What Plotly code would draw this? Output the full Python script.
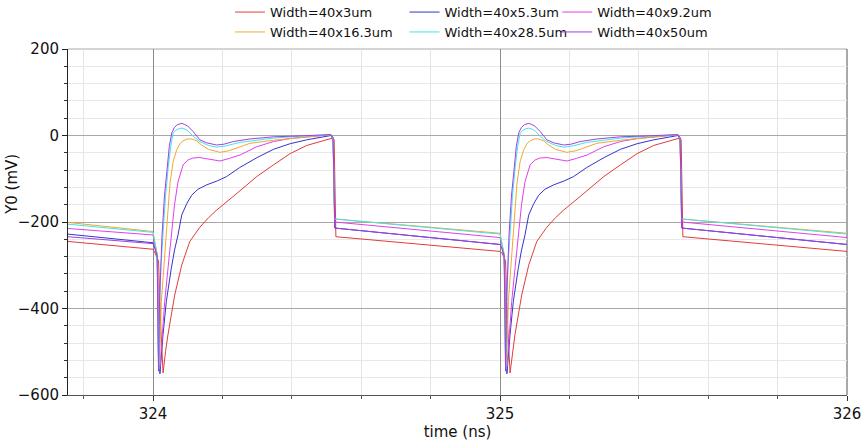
import plotly.graph_objects as go

# ---- data ----
series_names = ["Width=40x3um", "Width=40x5.3um", "Width=40x9.2um",
                "Width=40x16.3um", "Width=40x28.5um", "Width=40x50um"]
series_colors = ["#e03c3c", "#3434cc", "#e040e8", "#f0a830", "#40e4ee", "#a040e0"]
legend_group = ["legend", "legend2", "legend3", "legend", "legend2", "legend3"]

period_starts = [324.0, 325.0]
x_left = 323.755

# value at the left edge of the window (mV)
left_mv = [-245, -228, -215, -201, -205, -234]

# one switching period: time after the edge (ns) and Y0 (mV)
t_3um = [0.0, 0.006, 0.016, 0.022, 0.029, 0.036, 0.043, 0.0625, 0.083, 0.106, 0.135, 0.16,
         0.184, 0.231, 0.251, 0.299, 0.347, 0.395, 0.443, 0.491, 0.513, 0.522, 0.527, 1.0]
v_3um = [-263, -272, -290, -440, -549, -500, -461, -369, -299, -245, -212, -190,
         -172, -141, -127, -95, -68, -42, -23, -11, -7, -9, -234, -268]

t_5um = [0.0, 0.006, 0.012, 0.017, 0.020, 0.0288, 0.0383, 0.0527, 0.062, 0.072, 0.0827, 0.097,
         0.1115, 0.13, 0.155, 0.185, 0.212, 0.25, 0.28, 0.30, 0.347, 0.395, 0.443, 0.491,
         0.513, 0.519, 0.524, 1.0]
v_5um = [-248, -262, -280, -480, -551, -461, -384, -307, -265, -230, -184, -158,
         -138, -124, -114, -105, -95, -74, -60, -51, -32, -19, -10, -3,
         0, -10, -214, -252]

t_9um = [0.0, 0.006, 0.013, 0.017, 0.020, 0.027, 0.0337, 0.0432, 0.0527, 0.062, 0.072, 0.0867,
         0.10, 0.115, 0.135, 0.16, 0.193, 0.22, 0.251, 0.299, 0.347, 0.395, 0.443, 0.491,
         0.513, 0.519, 0.524, 1.0]
v_9um = [-230, -255, -280, -500, -535, -460, -384, -307, -230, -160, -107, -68,
         -57, -52, -51, -55, -59, -53, -45, -26, -14, -7, -3, 0,
         1, -5, -200, -236]

t_16um = [0.0, 0.006, 0.012, 0.016, 0.019, 0.024, 0.0383, 0.049, 0.058, 0.068, 0.077, 0.0865,
          0.10, 0.1115, 0.125, 0.14, 0.16, 0.193, 0.22, 0.251, 0.2795, 0.347, 0.443, 0.491,
          0.513, 0.519, 0.523, 1.0]
v_16um = [-222, -250, -275, -480, -530, -384, -230, -110, -60, -34, -20, -12,
          -8, -8, -12, -22, -32, -39, -35, -26, -18, -11, -4, 0,
          2, -5, -193, -226]

t_28um = [0.0, 0.006, 0.012, 0.0145, 0.017, 0.0193, 0.023, 0.0288, 0.036, 0.0441, 0.051, 0.058,
          0.066, 0.075, 0.0827, 0.092, 0.102, 0.116, 0.135, 0.16, 0.1836, 0.21, 0.25, 0.2795,
          0.347, 0.42, 0.491, 0.513, 0.519, 0.523, 1.0]
v_28um = [-224, -250, -275, -480, -540, -384, -300, -230, -140, -72, -25, 6,
          12, 16, 17, 15, 10, -2, -14, -23, -27, -24, -16, -13,
          -6, -2, 1, 2, -5, -193, -228]

t_50um = [0.0, 0.006, 0.012, 0.0145, 0.016, 0.0187, 0.022, 0.026, 0.033, 0.0403, 0.047, 0.054,
          0.062, 0.070, 0.078, 0.0827, 0.090, 0.100, 0.116, 0.135, 0.155, 0.1836, 0.205, 0.231,
          0.2795, 0.347, 0.42, 0.491, 0.513, 0.519, 0.524, 1.0]
v_50um = [-250, -262, -278, -480, -545, -384, -300, -230, -140, -72, -25, 6,
          19, 25, 28, 28, 26, 22, 9, -10, -17, -22, -20, -14,
          -8, -3, -1, 1, 2, -5, -214, -252]

period_t = [t_3um, t_5um, t_9um, t_16um, t_28um, t_50um]
period_v = [v_3um, v_5um, v_9um, v_16um, v_28um, v_50um]

x_ticks = [324, 325, 326]
y_ticks = [-600, -400, -200, 0, 200]

FONT = "DejaVu Sans"

fig = go.Figure()
for name, color, lg, left, T, V in zip(series_names, series_colors, legend_group,
                                       left_mv, period_t, period_v):
    xs = [x_left] + [period_starts[0] + t for t in T] + [period_starts[1] + t for t in T[1:]]
    ys = [left] + list(V) + list(V[1:])
    fig.add_trace(go.Scatter(x=xs, y=ys, mode="lines", name=name,
                             line=dict(color=color, width=1), legend=lg))

legend_common = dict(orientation="v", xanchor="left", yanchor="top",
                     bgcolor="rgba(0,0,0,0)", font=dict(family=FONT, size=13, color="#111"),
                     itemwidth=30, tracegroupgap=0)

fig.update_layout(
    width=863, height=442,
    margin=dict(l=68, r=16, t=49, b=47, autoexpand=False),
    paper_bgcolor="white", plot_bgcolor="white",
    font=dict(family=FONT, size=15, color="#111"),
    legend=dict(x=0.208, y=1.150, **legend_common),
    legend2=dict(x=0.432, y=1.150, **legend_common),
    legend3=dict(x=0.628, y=1.150, **legend_common),
    xaxis=dict(range=[x_left, 326], tickvals=x_ticks, ticktext=[str(v) for v in x_ticks],
               showgrid=True, gridcolor="#8c8c8c", gridwidth=1, zeroline=False,
               showline=True, linecolor="#555", linewidth=1,
               ticks="outside", ticklen=5, tickcolor="#333",
               tickfont=dict(family=FONT, size=15, color="#111"),
               minor=dict(dtick=0.2, showgrid=True, gridcolor="#e4e4e4", ticks="outside",
                          ticklen=3, tickcolor="#555"),
               title=dict(text="time (ns)", font=dict(family=FONT, size=15, color="#111"),
                          standoff=4),
               automargin=False),
    yaxis=dict(range=[-600, 200], tickvals=y_ticks,
               showgrid=True, gridcolor="#a8a8a8", gridwidth=1, zeroline=False,
               showline=True, linecolor="#222", linewidth=1,
               ticks="outside", ticklen=5, tickcolor="#222",
               tickfont=dict(family=FONT, size=15, color="#111"),
               minor=dict(dtick=40, showgrid=True, gridcolor="#e8e8e8", ticks="outside",
                          ticklen=3, tickcolor="#333"),
               automargin=False),
    shapes=[
        dict(type="line", xref="paper", yref="paper", x0=0, x1=1, y0=1, y1=1,
             line=dict(color="#a8a8a8", width=1), layer="below"),
        dict(type="line", xref="paper", yref="paper", x0=1, x1=1, y0=0, y1=1,
             line=dict(color="#555", width=1), layer="below"),
    ],
    annotations=[dict(text="Y0 (mV)", textangle=-90, xref="paper", yref="paper",
                      x=-0.072, y=0.61, xanchor="center", yanchor="middle", showarrow=False,
                      font=dict(family=FONT, size=15, color="#111"))],
)

fig.write_html("out.html")
